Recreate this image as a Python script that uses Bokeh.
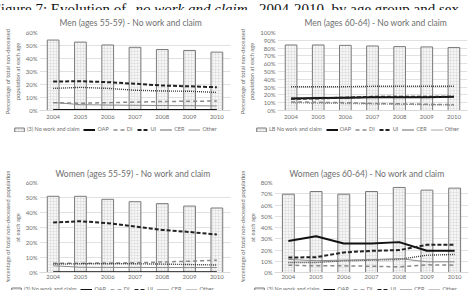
from bokeh.plotting import figure
from bokeh.models import (Range1d, FixedTicker, PrintfTickFormatter, Legend,
                          LegendItem, Label, ColumnDataSource, LinearAxis)
from bokeh.layouts import column, row
from bokeh.embed import file_html
from bokeh.resources import INLINE

years = ["2004", "2005", "2006", "2007", "2008", "2009", "2010"]

# Men 55-59
m55_nwc = [54.2, 52.6, 50.4, 48.6, 46.9, 46.2, 44.9]
m55_oap = [0.3, 0.3, 0.3, 0.3, 0.3, 0.3, 0.3]
m55_di = [6.0, 5.6, 6.0, 6.5, 6.9, 7.1, 7.3]
m55_ui = [22.3, 22.5, 21.8, 20.6, 19.2, 18.6, 17.9]
m55_cer = [17.0, 17.8, 17.0, 15.6, 15.0, 14.8, 13.9]
m55_other = [6.2, 4.5, 4.2, 4.0, 3.8, 3.7, 3.5]

# Men 60-64
m60_nwc = [84.0, 84.0, 83.5, 82.7, 81.9, 81.5, 80.7]
m60_oap = [15.5, 16.0, 16.5, 17.0, 17.0, 17.0, 17.5]
m60_di = [11.0, 10.5, 10.0, 9.0, 8.5, 8.0, 7.5]
m60_ui = [15.0, 15.5, 16.5, 17.5, 17.5, 17.5, 17.5]
m60_cer = [30.5, 30.5, 30.5, 31.0, 31.0, 31.0, 31.0]
m60_other = [10.0, 9.5, 9.0, 8.5, 8.0, 7.5, 7.0]

# Women 55-59
w55_nwc = [50.8, 50.8, 48.8, 47.2, 45.9, 44.3, 43.0]
w55_oap = [0.1, 0.1, 0.1, 0.1, 0.1, 0.1, 0.1]
w55_di = [6.2, 6.2, 6.3, 6.5, 7.0, 7.5, 8.2]
w55_ui = [33.3, 34.2, 32.9, 30.6, 28.4, 27.0, 25.3]
w55_cer = [5.6, 5.8, 5.8, 5.8, 5.6, 5.3, 5.0]
w55_other = [4.5, 3.5, 3.4, 3.4, 3.3, 3.3, 3.3]

# Women 60-64
w60_nwc = [69.6, 72.0, 69.6, 72.0, 75.6, 73.2, 75.0]
w60_oap = [28.0, 32.3, 25.8, 25.8, 27.0, 19.3, 19.3]
w60_di = [6.5, 5.9, 5.9, 5.6, 5.0, 6.8, 6.5]
w60_ui = [13.3, 13.6, 17.8, 19.3, 19.9, 24.6, 24.6]
w60_cer = [8.9, 8.9, 10.4, 11.0, 11.6, 15.4, 16.0]
w60_other = [11.6, 10.5, 11.0, 11.5, 12.4, 9.5, 9.5]

series_names = ["OAP", "DI", "UI", "CER", "Other"]
series_cols = ["oap", "di", "ui", "cer", "other"]

FONT = "Lato"
TXT = "#6e6e6e"
GRID = "#d9d9d9"

BAR_STYLE = dict(fill_color="#f6f6f6", line_color="#7a7a7a", line_width=1,
                 hatch_pattern="+", hatch_color="#d6d6d6", hatch_scale=3,
                 hatch_weight=0.5)
LINE_STYLES = [
    dict(line_color="#111111", line_width=2),
    dict(line_color="#8a8a8a", line_width=1.5, line_dash="4 3"),
    dict(line_color="#222222", line_width=2, line_dash="4 2"),
    dict(line_color="#3a3a3a", line_width=1.4, line_dash="1 1"),
    dict(line_color="#8a8a8a", line_width=1),
]
OTHER_DOTTED = dict(line_color="#8a8a8a", line_width=1.4, line_dash="1 1")


def style_text_axis(ax, fs="6px"):
    ax.major_tick_line_color = None
    ax.minor_tick_line_color = None
    ax.major_tick_out = 0
    ax.major_tick_in = 0
    ax.major_label_text_font = FONT
    ax.major_label_text_font_size = fs
    ax.major_label_text_color = TXT
    ax.axis_label_text_font = FONT
    ax.axis_label_text_font_size = "5.8px"
    ax.axis_label_text_font_style = "normal"
    ax.axis_label_text_color = TXT


def make_source(vals):
    nwc, oap, di, ui, cer, other = vals
    return ColumnDataSource(dict(x=years, nwc=nwc, oap=oap, di=di, ui=ui,
                                 cer=cer, other=other))


def draw_series(p, src, other_dotted):
    rs = [p.vbar(x="x", top="nwc", width=0.43, source=src, **BAR_STYLE)]
    for col, st in zip(series_cols, LINE_STYLES):
        if col == "other" and other_dotted:
            st = OTHER_DOTTED
        rs.append(p.line("x", col, source=src, **st))
    return rs


def panel(title, yt1, yt2, ymax, src, w, h, bl, br, bt, bb,
          title_off, title_standoff, xlab_standoff, other_dotted=False):
    p = figure(width=w, height=h, x_range=years, y_range=Range1d(0, ymax),
               output_backend="svg", toolbar_location=None,
               min_border_left=bl, min_border_right=br,
               min_border_top=bt, min_border_bottom=bb)
    p.outline_line_color = None
    p.background_fill_color = "white"
    p.xgrid.grid_line_color = None
    p.ygrid.grid_line_color = GRID
    p.ygrid.grid_line_width = 0.8
    p.yaxis.ticker = FixedTicker(ticks=list(range(0, ymax + 1, 10)))
    p.yaxis.formatter = PrintfTickFormatter(format="%d%%")
    style_text_axis(p.xaxis[0])
    style_text_axis(p.yaxis[0])
    p.yaxis.major_label_standoff = 2
    p.yaxis.axis_line_color = None
    p.xaxis.axis_line_color = GRID
    p.xaxis.major_label_standoff = xlab_standoff
    p.yaxis.axis_label = yt2
    p.yaxis.axis_label_standoff = 2

    outer = LinearAxis(ticker=FixedTicker(ticks=[]), axis_label=yt1)
    style_text_axis(outer)
    outer.axis_line_color = None
    outer.axis_label_standoff = 0
    outer.major_label_standoff = 0
    p.add_layout(outer, "left")

    p.title.text = title
    p.title.text_font = FONT
    p.title.text_font_size = "8.5px"
    p.title.text_font_style = "normal"
    p.title.text_color = TXT
    p.title.align = "left"
    p.title.offset = title_off
    p.title.standoff = title_standoff

    draw_series(p, src, other_dotted)
    return p


def legend_strip(w, h, src, nwc_label, lx, ly, other_dotted=False):
    # the series are drawn again far outside the visible range, only so that
    # the legend has real renderers to show
    f = figure(width=w, height=h, x_range=years, y_range=Range1d(1000, 1001),
               output_backend="svg", toolbar_location=None, min_border=0)
    f.axis.visible = False
    f.grid.visible = False
    f.outline_line_color = None
    rs = draw_series(f, src, other_dotted)
    labels = [nwc_label] + series_names
    legend = Legend(items=[LegendItem(label=l, renderers=[r])
                           for l, r in zip(labels, rs)],
                    orientation="horizontal", location=(lx, ly),
                    label_text_font=FONT, label_text_font_size="5.5px",
                    label_text_color=TXT, glyph_width=12, glyph_height=5,
                    label_standoff=2, spacing=4, padding=0, margin=0,
                    label_height=5, label_width=0, background_fill_alpha=0,
                    border_line_alpha=0)
    f.add_layout(legend)
    return f


s1 = make_source((m55_nwc, m55_oap, m55_di, m55_ui, m55_cer, m55_other))
s2 = make_source((m60_nwc, m60_oap, m60_di, m60_ui, m60_cer, m60_other))
s3 = make_source((w55_nwc, w55_oap, w55_di, w55_ui, w55_cer, w55_other))
s4 = make_source((w60_nwc, w60_oap, w60_di, w60_ui, w60_cer, w60_other))

p1 = panel("Men  (ages 55-59) - No work and claim",
           "Percentage of total non-deceased", "population at each age", 60,
           s1, 235, 111, 33, 5, 19, 11, 20, 10, 4)
p2 = panel("Men  (ages 60-64) - No work and claim",
           "Percentage of total non-deceased", "population at each age", 100,
           s2, 236, 111, 40, 4, 19, 11, 27, 10, 4, other_dotted=True)
p3 = panel("Women  (ages 55-59) - No work and claim",
           "Percentage of total non-deceased population", "at each age", 60,
           s3, 235, 137, 32, 5, 37, 10, 16, 8, 2)
p4 = panel("Women  (ages 60-64) - No work and claim",
           "Percentage of total non-deceased population", "at each age", 80,
           s4, 236, 137, 38, 3, 37, 10, 15, 8, 2)

l1 = legend_strip(235, 24, s1, "(3) No work and claim", 13, 13)
l2 = legend_strip(236, 24, s2, "LB No work and claim", 20, 13,
                  other_dotted=True)
l3 = legend_strip(235, 8, s3, "(3) No work and claim", 10, -2)
l4 = legend_strip(236, 8, s4, "(3) No work and claim", 18, -2)

# Figure caption strip (top cut off in the reference)
top = figure(width=471, height=10, x_range=Range1d(0, 1), y_range=Range1d(0, 1),
             output_backend="svg", toolbar_location=None, min_border=0)
top.axis.visible = False
top.grid.visible = False
top.outline_line_color = None
cap = [("Figure 7: Evolution of ", "normal", -8),
       ("no work and claim", "italic", 135),
       (", 2004-2010, by age group and sex", "normal", 251)]
for t, style, x in cap:
    top.add_layout(Label(x=x, y=3.5, x_units="screen", y_units="screen", text=t,
                         text_font="Liberation Serif", text_font_size="15px",
                         text_font_style=style, text_color="#111111",
                         text_align="left", text_baseline="alphabetic"))

layout = column(top, row(p1, p2), row(l1, l2), row(p3, p4), row(l3, l4))
open("out.html", "w").write(file_html(layout, INLINE))
